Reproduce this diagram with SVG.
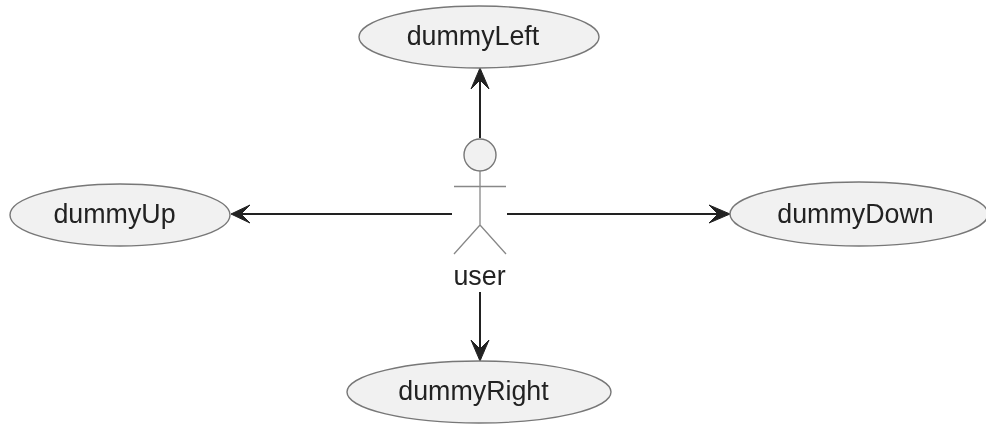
<svg xmlns="http://www.w3.org/2000/svg" width="986" height="424" viewBox="0 0 986 424">
<style>
.n{fill:#f1f1f1;stroke:#777;stroke-width:1.4}
.t{font-family:"Liberation Sans",Arial,sans-serif;font-size:26.8px;fill:#222;text-anchor:middle}
.c{stroke:#222;stroke-width:2;fill:none}
.a{fill:#222;stroke:#222;stroke-width:1}
</style>
<defs><filter id="soft" filterUnits="userSpaceOnUse" x="0" y="0" width="986" height="424"><feGaussianBlur stdDeviation="0.6"/></filter></defs>
<rect width="986" height="424" fill="#fff"/>
<g filter="url(#soft)">
<g id="connectors">
<path class="c" d="M480 138V72"/><path class="a" d="M480 68L471 89L480 80L489 89Z"/>
<path class="c" d="M452 214H236"/><path class="a" d="M231 214L250 205L241 214L250 223Z"/>
<path class="c" d="M507 214H725"/><path class="a" d="M730 214L709 205L718 214L709 223Z"/>
<path class="c" d="M480 292V356"/><path class="a" d="M480 361L471 340L480 349L489 340Z"/>
</g>
<g id="user">
<circle class="n" cx="480" cy="155" r="16"/>
<path fill="none" stroke="#888" stroke-width="1.3" d="M480 171V225M454 186.500H506M480 225L454 254M480 225L506 254"/>
<text class="t" x="479.500" y="285">user</text>
</g>
<g id="dummyLeft"><ellipse class="n" cx="479" cy="37" rx="120" ry="31"/><text class="t" x="473" y="45">dummyLeft</text></g>
<g id="dummyUp"><ellipse class="n" cx="120" cy="215" rx="110" ry="31"/><text class="t" x="114.500" y="223">dummyUp</text></g>
<g id="dummyDown"><ellipse class="n" cx="859" cy="214" rx="129" ry="32"/><text class="t" x="855.500" y="223">dummyDown</text></g>
<g id="dummyRight"><ellipse class="n" cx="479" cy="392" rx="132" ry="31"/><text class="t" x="473.500" y="400">dummyRight</text></g>
</g>
</svg>
